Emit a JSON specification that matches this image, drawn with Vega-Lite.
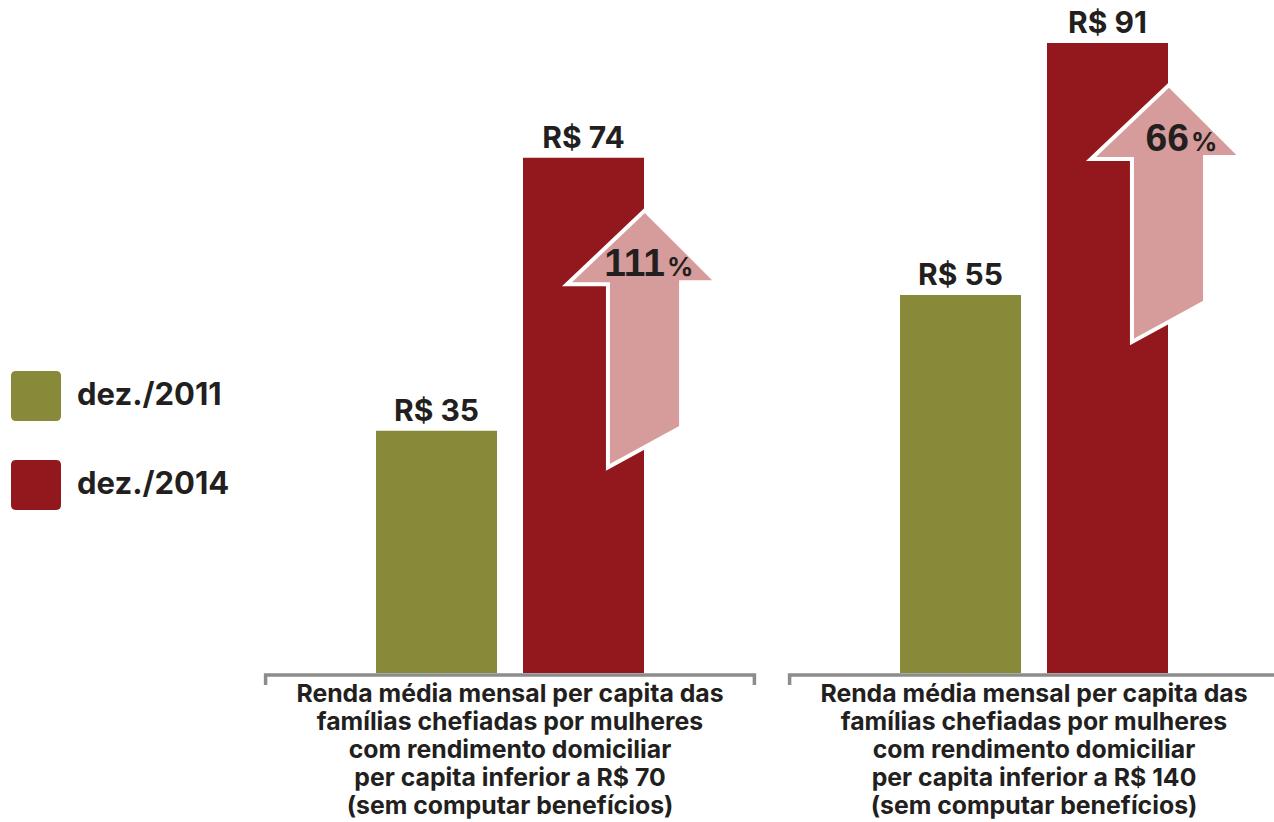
{
  "$schema": "https://vega.github.io/schema/vega-lite/v6.json",
  "width": 1274,
  "height": 822,
  "autosize": "none",
  "padding": 0,
  "background": "white",
  "config": {
    "view": {"stroke": null},
    "font": "Inter",
    "locale": {"number": {"decimal": ",", "thousands": ".", "grouping": [3], "currency": ["R$ ", ""]}}
  },
  "datasets": {
    "renda": [
      {"grupo": "até R$ 70", "periodo": "dez./2011", "valor": 35},
      {"grupo": "até R$ 70", "periodo": "dez./2014", "valor": 74.4, "variacao": 111},
      {"grupo": "até R$ 140", "periodo": "dez./2011", "valor": 54.6},
      {"grupo": "até R$ 140", "periodo": "dez./2014", "valor": 91, "variacao": 66}
    ],
    "grupos": [
      {"grupo": "até R$ 70", "rotulo": "Renda média mensal per capita das\nfamílias chefiadas por mulheres\ncom rendimento domiciliar\nper capita inferior a R$ 70\n(sem computar benefícios)"},
      {"grupo": "até R$ 140", "rotulo": "Renda média mensal per capita das\nfamílias chefiadas por mulheres\ncom rendimento domiciliar\nper capita inferior a R$ 140\n(sem computar benefícios)"}
    ]
  },
  "encoding": {
    "x": {
      "field": "grupo",
      "type": "nominal",
      "axis": null,
      "scale": {"domain": ["até R$ 70", "até R$ 140"], "range": [248, 1296], "paddingInner": 0, "paddingOuter": 0}
    }
  },
  "layer": [
    {
      "data": {"name": "renda"},
      "mark": {"type": "bar"},
      "encoding": {
        "xOffset": {
          "field": "periodo",
          "type": "nominal",
          "scale": {"domain": ["dez./2011", "dez./2014"], "paddingInner": 0.17687, "paddingOuter": 0.87075}
        },
        "y": {
          "field": "valor",
          "type": "quantitative",
          "axis": null,
          "scale": {"domain": [0, 97.2], "range": [673, 0], "nice": false, "zero": true}
        },
        "color": {
          "field": "periodo",
          "type": "nominal",
          "scale": {"domain": ["dez./2011", "dez./2014"], "range": ["#888a3a", "#93181e"]},
          "legend": {
            "title": null,
            "orient": "none",
            "legendX": 11,
            "legendY": 371,
            "padding": 0,
            "symbolType": "M-0.8,-1H0.8Q1,-1 1,-0.8V0.8Q1,1 0.8,1H-0.8Q-1,1 -1,0.8V-0.8Q-1,-1 -0.8,-1Z",
            "symbolSize": 2500,
            "symbolStrokeWidth": 0,
            "symbolOpacity": 1,
            "labelFont": "Inter",
            "labelFontSize": 31,
            "labelFontWeight": "bold",
            "labelColor": "#231f20",
            "labelOffset": 16,
            "labelLimit": 400,
            "rowPadding": 39
          }
        }
      }
    },
    {
      "data": {"name": "renda"},
      "mark": {"type": "text", "baseline": "alphabetic", "dy": -10, "fontSize": 30, "fontWeight": "bold", "font": "Inter", "color": "#231f20"},
      "encoding": {
        "xOffset": {"field": "periodo", "type": "nominal"},
        "y": {"field": "valor", "type": "quantitative"},
        "text": {"field": "valor", "type": "quantitative", "format": "$.0f"}
      }
    },
    {
      "data": {"name": "renda"},
      "transform": [
        {"aggregate": [{"op": "mean", "field": "valor", "as": "valor_medio"}, {"op": "max", "field": "variacao", "as": "variacao"}], "groupby": ["grupo"]}
      ],
      "mark": {
        "type": "point",
        "shape": "M0.023,-1L0.584,-0.44L0.304,-0.44L0.304,0.689L-0.265,1L-0.265,-0.424L-0.584,-0.424Z",
        "size": 66049,
        "filled": true,
        "fill": "#d69c9b",
        "stroke": "white",
        "strokeWidth": 4,
        "opacity": 1,
        "fillOpacity": 1,
        "xOffset": 132,
        "yOffset": 44.5
      },
      "encoding": {
        "y": {"field": "valor_medio", "type": "quantitative"}
      }
    },
    {
      "data": {"name": "renda"},
      "transform": [
        {"aggregate": [{"op": "mean", "field": "valor", "as": "valor_medio"}, {"op": "max", "field": "variacao", "as": "variacao"}], "groupby": ["grupo"]}
      ],
      "mark": {"type": "text", "align": "right", "baseline": "alphabetic", "dx": 155, "dy": -18, "fontSize": 39, "fontWeight": "bold", "font": "Liberation Sans", "color": "#231f20"},
      "encoding": {
        "y": {"field": "valor_medio", "type": "quantitative"},
        "text": {"field": "variacao", "type": "quantitative", "format": "d"}
      }
    },
    {
      "data": {"name": "renda"},
      "transform": [
        {"aggregate": [{"op": "mean", "field": "valor", "as": "valor_medio"}], "groupby": ["grupo"]}
      ],
      "mark": {"type": "text", "align": "left", "baseline": "alphabetic", "dx": 157, "dy": -18, "fontSize": 26, "fontWeight": "bold", "font": "Inter", "color": "#231f20"},
      "encoding": {
        "y": {"field": "valor_medio", "type": "quantitative"},
        "text": {"value": "%"}
      }
    },
    {
      "data": {"name": "grupos"},
      "mark": {
        "type": "point",
        "shape": "M-1,0.041V0H1V0.041",
        "size": 238927,
        "filled": false,
        "stroke": "#8c8c8c",
        "strokeWidth": 3.5,
        "strokeCap": "butt",
        "opacity": 1,
        "yOffset": 2
      },
      "encoding": {
        "y": {"datum": 0, "type": "quantitative"}
      }
    },
    {
      "data": {"name": "grupos"},
      "mark": {"type": "text", "align": "center", "baseline": "alphabetic", "dy": 29, "lineBreak": "\n", "lineHeight": 28, "fontSize": 24.8, "fontWeight": "bold", "font": "Inter", "color": "#231f20"},
      "encoding": {
        "y": {"datum": 0, "type": "quantitative"},
        "text": {"field": "rotulo", "type": "nominal"}
      }
    }
  ]
}
